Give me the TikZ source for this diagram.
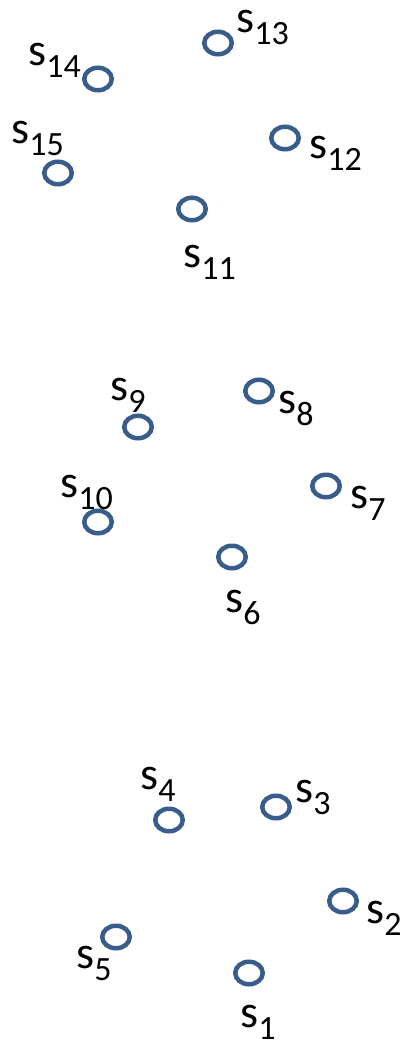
\documentclass[tikz,border=0pt]{standalone}
\usepackage{fontspec}
\setmainfont{Carlito}
\usetikzlibrary{shapes.geometric}
\definecolor{ringblue}{HTML}{385D8A}
% index lowered below the baseline, set smaller than the letter
\newcommand\lowidx[1]{\raisebox{-12pt}{\fontsize{34}{34}\selectfont #1}}
\tikzset{
  ring/.style={ellipse, draw=ringblue, line width=4.5pt, fill=none,
    minimum width=27.5pt, minimum height=22.5pt, inner sep=0pt},
  tag/.style={anchor=base west, inner sep=0pt, outer sep=0pt,
    font=\fontsize{46}{46}\selectfont, text=black}
}
\begin{document}
\begin{tikzpicture}[x=1pt, y=-1pt]
\useasboundingbox (0,0) rectangle (405,1047);
% states on top
\node[ring] (s13) at (218,43) {};
\node[ring] (s14) at (98,79) {};
\node[ring] (s15) at (58,173) {};
\node[ring] (s12) at (285,138) {};
\node[ring] (s11) at (192,209) {};
% states in the middle
\node[ring] (s9) at (138,427) {};
\node[ring] (s8) at (259,391) {};
\node[ring] (s10) at (98,522) {};
\node[ring] (s7) at (326,486) {};
\node[ring] (s6) at (232,557) {};
% states at the bottom
\node[ring] (s4) at (169,820) {};
\node[ring] (s3) at (276,807) {};
\node[ring] (s2) at (343,901) {};
\node[ring] (s5) at (116,937) {};
\node[ring] (s1) at (249,973) {};
% labels
\node[tag] (l13) at (236.5,32) {s\lowidx{13}};
\node[tag] (l14) at (28.5,65) {s\lowidx{14}};
\node[tag] (l15) at (11.5,143) {s\lowidx{15}};
\node[tag] (l12) at (309.5,158) {s\lowidx{12}};
\node[tag] (l11) at (183.5,267) {s\lowidx{11}};
\node[tag] (l9) at (110.5,400) {s\lowidx{9}};
\node[tag] (l8) at (278.5,413) {s\lowidx{8}};
\node[tag] (l10) at (60.5,497) {s\lowidx{10}};
\node[tag] (l7) at (350.5,508) {s\lowidx{7}};
\node[tag] (l6) at (225.5,612) {s\lowidx{6}};
\node[tag] (l4) at (140.5,789) {s\lowidx{4}};
\node[tag] (l3) at (295.5,802) {s\lowidx{3}};
\node[tag] (l2) at (366.5,923) {s\lowidx{2}};
\node[tag] (l5) at (76.5,968) {s\lowidx{5}};
\node[tag] (l1) at (240.5,1027) {s\lowidx{1}};
\end{tikzpicture}
\end{document}
